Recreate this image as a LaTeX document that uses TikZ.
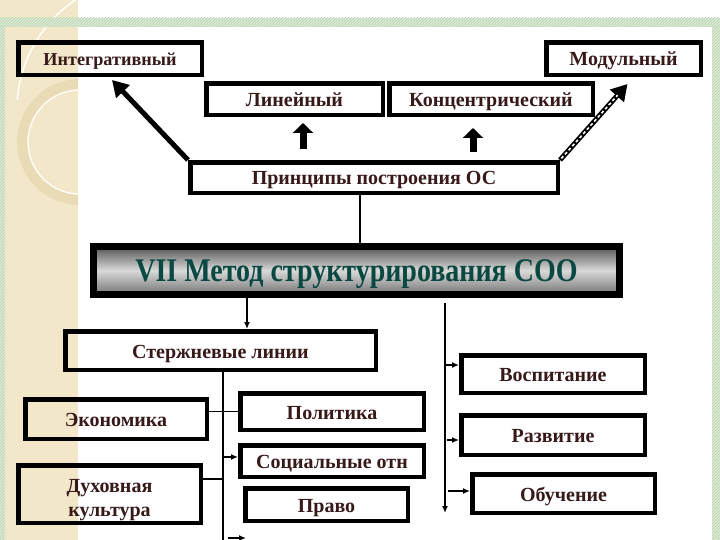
\documentclass[tikz,border=0pt]{standalone}
\usepackage{graphicx}
\usepackage{fontspec}
\setmainfont{Liberation Serif}
\usetikzlibrary{arrows.meta,calc,patterns}
\definecolor{txt}{RGB}{55,25,25}
\definecolor{vtxt}{RGB}{10,72,66}
\definecolor{beige}{RGB}{242,231,200}
\definecolor{hatch}{RGB}{226,233,214}
\definecolor{ringc}{RGB}{232,219,182}
\tikzset{
 box/.style={draw, line width=4pt, inner sep=0pt, font=\bfseries\fontsize{20}{24}\selectfont, text=txt, align=center, text height=15pt, text depth=0pt},
 innerline/.style={line width=0.7pt},
 conn/.style={line width=1.4pt},
 sarrow/.style={conn, -{Latex[length=7pt,width=6pt]}},
 bigarrow/.style={line width=5pt, -{Triangle[length=16pt,width=18pt]}},
 blockarrow/.style={line width=7pt, -{Triangle[length=10pt,width=20pt]}},
}
\newcommand\mybox[7][]{%
 \node[box, minimum width={(#5-#3-4)*1pt}, minimum height={(#6-#4-4)*1pt}, #1] (#2) at ({(#3+#5)/2},{(#4+#6)/2}) {#7};
 \draw[innerline] ([shift={(4pt,-4pt)}]#2.north west) rectangle ([shift={(-4pt,4pt)}]#2.south east);}
\begin{document}
\begin{tikzpicture}[x=1pt,y=-1pt]
\useasboundingbox (0,0) rectangle (720,540);
\fill[white] (0,0) rectangle (720,540);
\fill[beige] (0,0) rectangle (78,540);
\begin{scope}
 \clip (0,0) rectangle (78,540);
 \draw[ringc, line width=10pt] (80,142) circle[radius=58];
 \draw[white, line width=1.2pt] (80,142) circle[radius=52];
 \begin{scope}
  \clip (0,0) rectangle (78,100);
  \draw[white, line width=1.5pt] (150,110) circle[radius=133];
 \end{scope}
\end{scope}
\fill[hatch] (0,18) rectangle (720,27);
\fill[hatch] (0,27) rectangle (5,540);
\fill[hatch] (712,27) rectangle (720,540);
\fill[pattern=north east lines, pattern color=green!30!gray!50] (0,18) rectangle (720,27);
\fill[pattern=north east lines, pattern color=green!30!gray!50] (0,27) rectangle (5,540);
\fill[pattern=north east lines, pattern color=green!30!gray!50] (712,27) rectangle (720,540);

\coordinate (xa) at (360,0);
\coordinate (xb) at (247,0);
\coordinate (xc) at (445,0);
\coordinate (xd) at (223,0);
\coordinate (endc) at (445,513);
\coordinate (bot) at (223,540);
\coordinate (ba) at (228,538);
\coordinate (bb) at (246,538);

\mybox[font=\bfseries\fontsize{18.2}{22}\selectfont, text height=13.8pt]{integ}{16}{40}{204}{77}{Интегративный}
\mybox{modul}{544}{40}{703}{77}{Модульный}
\mybox{lin}{204}{81}{385}{117}{Линейный}
\mybox{konc}{387}{81}{595}{117}{Концентрический}
\mybox{princ}{188}{160}{560}{195}{Принципы построения ОС}
\shade[top color=black!68, bottom color=black!55, middle color=black!15] (93,246) rectangle (620,295);
\node[draw, line width=7pt, minimum width=526pt, minimum height=48pt, inner sep=0pt,
  font=\bfseries\fontsize{28}{32}\selectfont, text=vtxt, text height=21pt, text depth=0pt] (vii) at (356.5,270.5) {\scalebox{1}[1.18]{VII Метод структурирования СОО}};
\mybox{sterzh}{63}{329}{378}{372}{Стержневые линии}
\mybox{vosp}{459}{353}{647}{395}{Воспитание}
\mybox{razv}{459}{413}{647}{457}{Развитие}
\mybox{obuch}{470}{472}{657}{515}{Обучение}
\mybox{econ}{23}{397}{209}{441}{Экономика}
\mybox[text height=44pt]{duh}{16}{463}{203}{525}{Духовная\\культура}
\mybox{polit}{238}{391}{426}{432}{Политика}
\mybox{soc}{238}{443}{426}{479}{Социальные отн}
\mybox{pravo}{243}{486}{410}{523}{Право}

% top arrows
\draw[bigarrow] (princ.north west) -- ($(integ.south)+(2pt,-3pt)$);
\coordinate (mtip) at ($(modul.south)+(4pt,-7pt)$);
\draw[bigarrow] (princ.north east) -- (mtip);
\draw[white, line width=1.6pt, dash pattern=on 3pt off 2.5pt, shorten >=15pt, shorten <=2pt] (princ.north east) -- (mtip);
\draw[blockarrow] ($(lin.south)+(8.5pt,-32pt)$) -- ($(lin.south)+(8.5pt,-6pt)$);
\draw[blockarrow] ($(konc.south)+(-18pt,-35pt)$) -- ($(konc.south)+(-18pt,-11pt)$);
\draw[conn] (princ.south -| xa) -- (vii.north -| xa);

% lower connectors
\draw[sarrow] (vii.south -| xb) -- (sterzh.north -| xb);
\draw[conn, -{Latex[length=7pt,width=6pt]}] ([yshift=-5pt]vii.south -| xc) -- (endc);
\draw[sarrow] ($(vosp.west)+(-14pt,9pt)$) -- ($(vosp.west)+(0,9pt)$);
\draw[sarrow] ($(razv.west)+(-12pt,-5pt)$) -- ($(razv.west)+(0,-5pt)$);
\draw[sarrow] ($(obuch.west)+(-22pt,2.5pt)$) -- ($(obuch.west)+(0,2.5pt)$);

\draw[conn] (sterzh.south -| xd) -- (bot);
\draw[conn] (econ.east |- polit.west) -- (polit.west);
\draw[sarrow] ($(soc.west)+(-15pt,4pt)$) -- ($(soc.west)+(0,4pt)$);
\coordinate (dl) at ($(duh.east)+(0,15pt)$);
\draw[conn] (dl) -- (dl -| xd);
\draw[sarrow] (ba) -- (bb);
\end{tikzpicture}
\end{document}
